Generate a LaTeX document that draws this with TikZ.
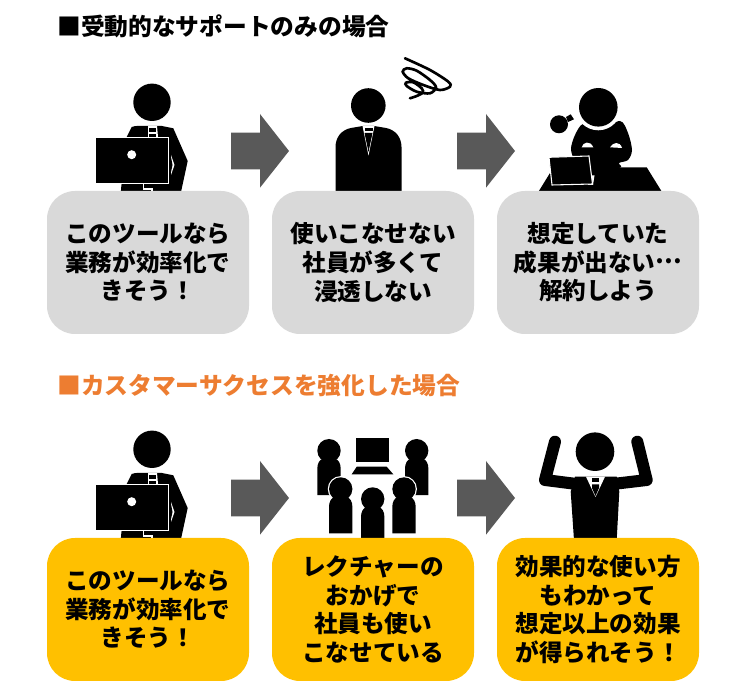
\documentclass[tikz,border=0pt]{standalone}
\usepackage{fontspec}
\newfontfamily\cjk{Noto Sans CJK JP}
\definecolor{boxgrey}{HTML}{D9D9D9}
\definecolor{boxgold}{HTML}{FFC000}
\definecolor{arrowgrey}{HTML}{595959}
\definecolor{headorange}{HTML}{ED7D31}
\tikzset{
    msgbox/.style={rounded corners=21pt,minimum width=151.5pt,minimum height=107.25pt,inner sep=0pt,align=center,
        font=\cjk\bfseries\fontsize{17.7}{21.4}\selectfont},
    heading/.style={anchor=west,inner sep=0pt,font=\cjk\bfseries\fontsize{17.8}{21.4}\selectfont},
    gap/.style={draw=white,line width=.8pt},
    deskman/.pic={
        \fill (152,102.3) circle (18.7);
        \fill (126.7,137)--(131.7,127) to[out=20,in=180] (143,126)--(162,126)--(173.3,128.3)--(187.7,161)--(181,192)--(120.7,192)--cycle;
        \fill[white] (148,126)--(157,126)--(158,137)--(148,137)--cycle;
        \fill (149,128)--(156,128)--(156,132)--(149,132)--cycle;
        \fill (149,134)--(156,134)--(156,137)--(149,137)--cycle;
        \fill[white] (171,155)--(174.5,165)--(171,175)--cycle;
        \fill (171,157)--(172.5,165)--(171,172)--cycle;
        \fill[gap] (95.7,137.3) rectangle (168.3,183.3);
        \fill[white] (131.7,154.7) circle (4.5);
        \draw[gap] (143.3,183.3)--(143.3,189)--(152,189)--(152,192);
        \draw[gap] (120.7,183.3)--(120.7,189)--(113,189);
    },
    blockarrow/.pic={
        \fill[arrowgrey] (231,132.7)--(260,132.7)--(260,114)--(289,151)--(260,187.7)--(260,169.3)--(231,169.3)--cycle;
    },
    smallman/.pic={
        \draw[white,line width=1.8pt] (0,0) circle (11.7);
        \draw[white,line width=1.8pt] (-11.7,44.5)--(-11.7,18) to[out=90,in=180] (-5,8)--(5,8) to[out=0,in=90] (11.7,18)--(11.7,44.5)--cycle;
        \fill (0,0) circle (11.7);
        \fill (-11.7,44.5)--(-11.7,18) to[out=90,in=180] (-5,8)--(5,8) to[out=0,in=90] (11.7,18)--(11.7,44.5)--cycle;
    },
}
\begin{document}
\begin{tikzpicture}[x=.75pt,y=-.75pt]
\useasboundingbox (0,0) rectangle (733,684);
% upper row
\node[heading] (title1) at (57,26) {■受動的なサポートのみの場合};
\pic at (0,0) {deskman};
\pic at (0,0) {blockarrow};
\pic at (226,0) {blockarrow};
\begin{scope}
    \fill (368.3,105.5) circle (17.3);
    \fill (335.5,192)--(335.5,147) to[out=90,in=190] (351,128)--(363,126)--(374,126)--(386,128) to[out=-10,in=90] (401.5,147)--(401.5,192)--cycle;
    \fill[white] (362.5,126)--(374.5,126)--(368.5,155.5)--cycle;
    \fill (364.5,128)--(372.5,128)--(372.5,131)--(364.5,131)--cycle;
    \fill (364.5,133)--(372.5,133)--(368.5,152)--cycle;
    \draw[line width=2pt,line cap=round] plot[smooth] coordinates{(405,58.3)(430,70)(448.3,81.7)(450,86.7)(440,90)(423.3,85)(408.3,78.3)(402.7,71.7)(406.7,68.3)(416.7,70.7)(430,80)(436,87.3)(430,93.3)(416.7,91.7)(406.7,86)(406,82.7)(413.3,82.3)(421.7,88.3)(422.7,92.7)(416.7,96)(410,98.3)};
\end{scope}
\begin{scope}
    \fill (538.3,192)--(550,173)--(565,167.3)--(646.7,167.3)--(662,192)--cycle;
    \fill plot[smooth cycle] coordinates{(583,124)(598,130)(620,121)(628,133)(632,150)(628,160)(619,163)(619,168)(577,168)(577,162)(573,157)(571,148)(575,135)};
    \fill[white] (598.3,107.3) circle (23);
    \fill (598.3,107.3) circle (19.3);
    \fill[white] (581.7,147.3)..controls (583,142) and (590,140) ..(593.3,147.3)--cycle;
    \fill[white] (610,147.3)..controls (613,142) and (620,141) ..(622,148)--cycle;
    \fill (559,124.3) circle (9);
    \fill (566,117)--(570.7,114.3)--(574,119.3)--(568,122)--cycle;
    \fill[white] (588,175)--(594.5,175.5)--(593,185)--(588,185)--cycle;
    \fill[gap] (549,157.3)--(589,156)--(592.5,184)--(552,185)--cycle;
\end{scope}
\node[msgbox,fill=boxgrey] (gone) at (148,262.5) {このツールなら\\業務が効率化で\\きそう！};
\node[msgbox,fill=boxgrey] (gtwo) at (373,262.5) {使いこなせない\\社員が多くて\\浸透しない};
\node[msgbox,fill=boxgrey] (gthree) at (598,262.5) {想定していた\\成果が出ない\raisebox{.33em}{…}\\解約しよう};
% lower row
\node[heading,text=headorange] (title2) at (57,386) {■カスタマーサクセスを強化した場合};
\pic at (0,347) {deskman};
\pic at (0,347) {blockarrow};
\pic at (226,347) {blockarrow};
\begin{scope}
    \pic at (329,450.7) {smallman};
    \pic at (416.7,450.7) {smallman};
    \fill (356,438.3) rectangle (389.3,461.7);
    \fill (356.7,466.7)--(386.7,466.7)--(393.3,474.3)--(351.7,474.3)--cycle;
    \pic at (340.7,489) {smallman};
    \pic at (404,489) {smallman};
    \pic at (372.7,499) {smallman};
\end{scope}
\begin{scope}
    \fill (595,451.7) circle (19.3);
    \draw[line width=9pt,line cap=round,line join=round] (555,441.7)--(545,480)--(576.7,484);
    \draw[line width=9pt,line cap=round,line join=round] (637.3,441.7)--(646.7,480)--(613,484);
    \fill (575,476.7)--(616.7,476.7)--(619.3,491.7)--(616.7,540)--(574,540)--(570.7,491.7)--cycle;
    \fill[white] (586,476.7)--(605,476.7)--(595.5,497)--cycle;
    \fill (592,478.5)--(599,478.5)--(599,482)--(592,482)--cycle;
    \fill (592,484.5)--(599,484.5)--(599,488)--(595.5,496)--(592,488)--cycle;
\end{scope}
\node[msgbox,fill=boxgold] (yone) at (148,609.5) {このツールなら\\業務が効率化で\\きそう！};
\node[msgbox,fill=boxgold] (ytwo) at (373,609.5) {レクチャーの\\おかげで\\社員も使い\\こなせている};
\node[msgbox,fill=boxgold] (ythree) at (598,609.5) {効果的な使い方\\もわかって\\想定以上の効果\\が得られそう！};
\end{tikzpicture}
\end{document}
